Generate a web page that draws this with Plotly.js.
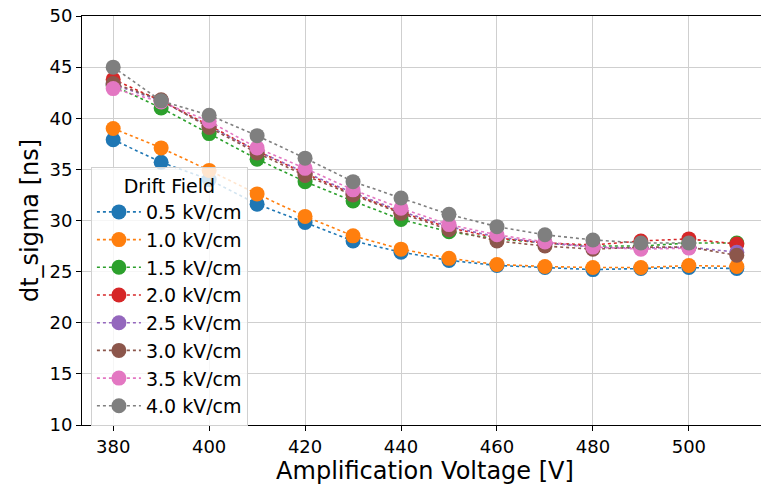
<!DOCTYPE html>
<html>
<head>
<meta charset="utf-8">
<script src="https://cdn.plot.ly/plotly-3.0.1.min.js"></script>
<style>
  html, body { margin: 0; padding: 0; overflow: hidden; background: #fff; }
  #chart { width: 790px; height: 485px; }
</style>
</head>
<body>
<div id="chart"></div>
<script>
// Amplification voltage scan points [V]
const voltage = [380, 390, 400, 410, 420, 430, 440, 450, 460, 470, 480, 490, 500, 510];

// Drift field labels
const fieldLabels = ["0.5 kV/cm", "1.0 kV/cm", "1.5 kV/cm", "2.0 kV/cm",
                     "2.5 kV/cm", "3.0 kV/cm", "3.5 kV/cm", "4.0 kV/cm"];

// dt_sigma [ns] per drift field
const sigma05 = [37.9, 35.7, 34.0, 31.6, 29.8, 28.0, 26.9, 26.1, 25.6, 25.4, 25.2, 25.3, 25.4, 25.3];
const sigma10 = [39.0, 37.1, 34.9, 32.6, 30.4, 28.5, 27.2, 26.3, 25.7, 25.5, 25.4, 25.4, 25.6, 25.5];
const sigma15 = [43.2, 41.0, 38.5, 36.0, 33.8, 31.9, 30.1, 28.9, 28.2, 27.8, 27.5, 27.5, 27.8, 27.8];
const sigma20 = [43.8, 41.7, 39.3, 36.8, 34.6, 32.6, 30.8, 29.3, 28.3, 27.8, 27.6, 28.0, 28.2, 27.7];
const sigma25 = [43.3, 41.7, 39.2, 36.8, 34.7, 32.7, 30.9, 29.4, 28.4, 27.8, 27.4, 27.3, 27.4, 26.9];
const sigma30 = [43.4, 41.8, 39.1, 36.6, 34.4, 32.5, 30.7, 29.1, 28.0, 27.5, 27.2, 27.4, 27.4, 26.6];
const sigma35 = [42.9, 41.6, 39.7, 37.1, 35.1, 33.0, 31.2, 29.6, 28.6, 27.9, 27.4, 27.2, 27.3];
const sigma40 = [45.0, 41.7, 40.3, 38.3, 36.1, 33.8, 32.2, 30.6, 29.4, 28.6, 28.1, 27.8, 27.8];

const seriesValues = [sigma05, sigma10, sigma15, sigma20, sigma25, sigma30, sigma35, sigma40];
const palette = ["#1f77b4", "#ff7f0e", "#2ca02c", "#d62728",
                 "#9467bd", "#8c564b", "#e377c2", "#7f7f7f"];

const font = "DejaVu Sans, Liberation Sans, sans-serif";

const traces = seriesValues.map((vals, i) => ({
  type: "scatter",
  mode: "lines+markers",
  name: fieldLabels[i],
  x: voltage.slice(0, vals.length),
  y: vals,
  line: { color: palette[i], width: 1.6, dash: "dot" },
  marker: { color: palette[i], size: 15 }
}));

const layout = {
  width: 790,
  height: 485,
  margin: { l: 82, r: 22, t: 16, b: 60 },
  paper_bgcolor: "#ffffff",
  plot_bgcolor: "#ffffff",
  font: { family: font, size: 18, color: "#000" },
  showlegend: true,
  legend: {
    x: 0.013, y: 0.63, xanchor: "left", yanchor: "top",
    bgcolor: "rgba(255,255,255,0.8)",
    bordercolor: "#d0d0d0", borderwidth: 1,
    itemwidth: 44,
    font: { family: font, size: 19, color: "#000" },
    title: { text: "Drift Field", side: "top center", font: { family: font, size: 19 } },
    tracegroupgap: 0
  },
  xaxis: {
    range: [373.5, 516.5],
    tickmode: "array",
    tickvals: [380, 400, 420, 440, 460, 480, 500],
    ticks: "outside", ticklen: 5, tickcolor: "#000",
    showline: true, linecolor: "#000", linewidth: 1, mirror: true,
    showgrid: true, gridcolor: "#cfcfcf", gridwidth: 1,
    zeroline: false,
    tickfont: { family: font, size: 18 },
    title: { text: "Amplification Voltage [V]", font: { family: font, size: 24 }, standoff: 2 }
  },
  yaxis: {
    range: [10, 50],
    dtick: 5,
    ticks: "outside", ticklen: 5, tickcolor: "#000",
    showline: true, linecolor: "#000", linewidth: 1, mirror: true,
    showgrid: true, gridcolor: "#cfcfcf", gridwidth: 1,
    zeroline: false,
    tickfont: { family: font, size: 18 },
    title: { text: "dt_sigma [ns]", font: { family: font, size: 24 }, standoff: 4 }
  }
};

Plotly.newPlot("chart", traces, layout, { displayModeBar: false, staticPlot: true });
</script>
</body>
</html>
